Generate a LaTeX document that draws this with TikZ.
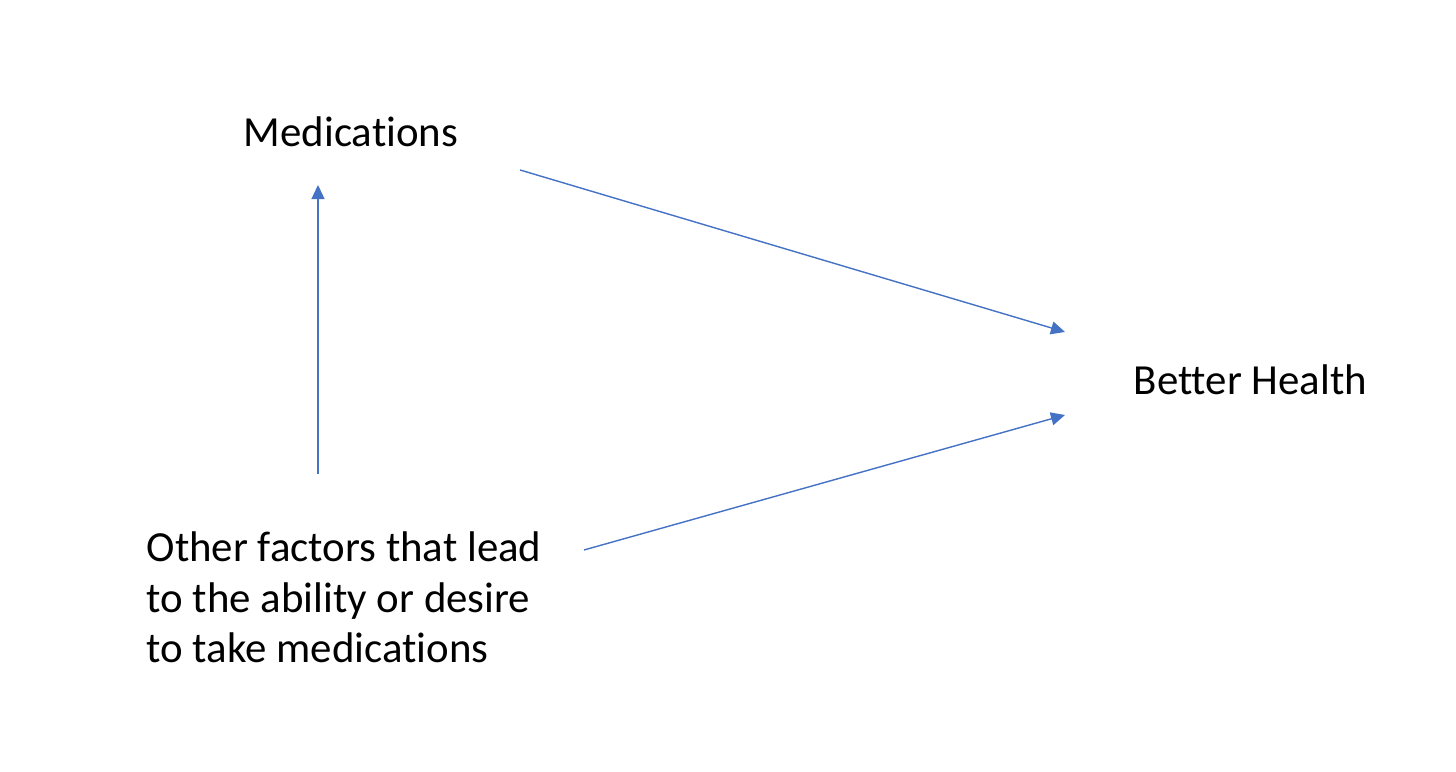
\documentclass[tikz,border=0pt]{standalone}
\usepackage{fontspec}
\setmainfont{Carlito}[Ligatures={NoCommon}]
\usepackage{tikz}
\usetikzlibrary{arrows.meta}
\usepackage{xcolor}
\definecolor{officeblue}{HTML}{4472C4}

\begin{document}
\begin{tikzpicture}[
    lbl/.style={inner sep=0pt, font=\fontsize{12.2pt}{14.4pt}\selectfont},
    arr/.style={draw=officeblue, line width=0.4pt,
      -{Triangle[length=4pt,width=3.7pt]}, fill=none}
  ]
	\useasboundingbox (0,0) rectangle (14.56,7.72);

	\node (M) [lbl, anchor=base west] at (2.43,6.25) {Medications};
	\node (H) [lbl, anchor=base west] at (11.33,3.775) {Better Health};
	\node (O) [lbl, anchor=base west, align=left] at (1.46,1.09)
	  {Other factors that lead\\to the ability or desire\\to take medications};

	\coordinate (Mtip) at (3.18,5.87);
	\coordinate (Otop) at (3.18,2.98);
	\coordinate (Mout) at (5.20,6.02);
	\coordinate (Hin1) at (10.65,4.40);
	\coordinate (Oout) at (5.84,2.22);
	\coordinate (Hin2) at (10.65,3.57);

  \path (Otop) edge [arr] (Mtip);
  \path (Mout) edge [arr] (Hin1);
  \path (Oout) edge [arr] (Hin2);

\end{tikzpicture}
\end{document}
